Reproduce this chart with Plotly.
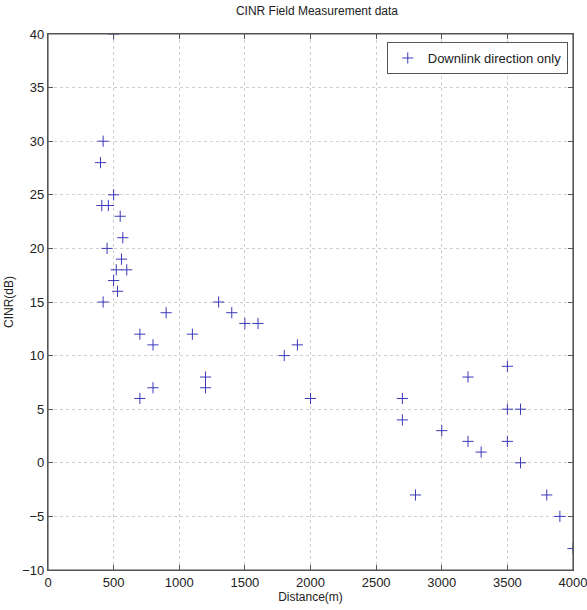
import plotly.graph_objects as go

distance = [500, 420, 400, 500, 410, 460, 550, 570, 450, 560, 520, 600, 500, 530, 420,
            900, 700, 800, 1100, 1300, 1400, 1500, 1600, 1800, 1900, 1200, 1200, 800, 700, 2000,
            2700, 2700, 2800, 3000, 3200, 3200, 3300, 3500, 3500, 3600, 3500, 3600, 3800, 3900, 4000]
cinr = [40, 30, 28, 25, 24, 24, 23, 21, 20, 19, 18, 18, 17, 16, 15,
        14, 12, 11, 12, 15, 14, 13, 13, 10, 11, 8, 7, 7, 6, 6,
        6, 4, -3, 3, 8, 2, 1, 9, 5, 5, 2, 0, -3, -5, -8]

x_ticks = [0, 500, 1000, 1500, 2000, 2500, 3000, 3500, 4000]
y_ticks = [-10, -5, 0, 5, 10, 15, 20, 25, 30, 35, 40]

FONT = "Liberation Sans Narrow, Liberation Sans, Arial, sans-serif"

fig = go.Figure()
fig.add_trace(go.Scatter(
    x=distance, y=cinr, mode="markers", name="Downlink direction only",
    marker=dict(symbol="cross-thin-open", size=8, color="#3a3ab8",
                line=dict(width=1, color="#3a3ab8")),
))

axis_common = dict(
    showgrid=True, gridcolor="#cfcfcf", griddash="dot", gridwidth=1,
    showline=True, linecolor="#555555", linewidth=1.2, mirror="ticks",
    ticks="inside", ticklen=5, tickcolor="#555555",
    zeroline=False, tickfont=dict(size=13, color="#222222", family=FONT),
    automargin=False, ticklabeloverflow="allow",
)

fig.update_layout(
    width=587, height=610,
    margin=dict(l=48, r=14, t=34, b=40),
    paper_bgcolor="white", plot_bgcolor="white",
    font=dict(family=FONT, color="#222222"),
    title=dict(text="CINR Field Measurement data", x=0.54, xanchor="center",
               y=0.99, yanchor="top", font=dict(size=12)),
    xaxis=dict(range=[0, 4000], tickvals=x_ticks,
               title=dict(text="Distance(m)", font=dict(size=12), standoff=0),
               **axis_common),
    yaxis=dict(range=[-10, 40], tickvals=y_ticks,
               title=dict(text="CINR(dB)", font=dict(size=12), standoff=6),
               **axis_common),
    showlegend=True,
    legend=dict(x=0.99, y=0.985, xanchor="right", yanchor="top",
                bgcolor="white", bordercolor="#555555", borderwidth=1,
                font=dict(size=13)),
    shapes=[dict(type="rect", xref="x domain", yref="y domain", x0=0, y0=0, x1=1, y1=1,
                 line=dict(color="#555555", width=1.2), fillcolor="rgba(0,0,0,0)",
                 layer="above")],
)

fig.write_html(
    "out.html",
    config={"displayModeBar": False},
    post_script="document.body.style.margin='0';document.body.style.overflow='hidden';",
)
